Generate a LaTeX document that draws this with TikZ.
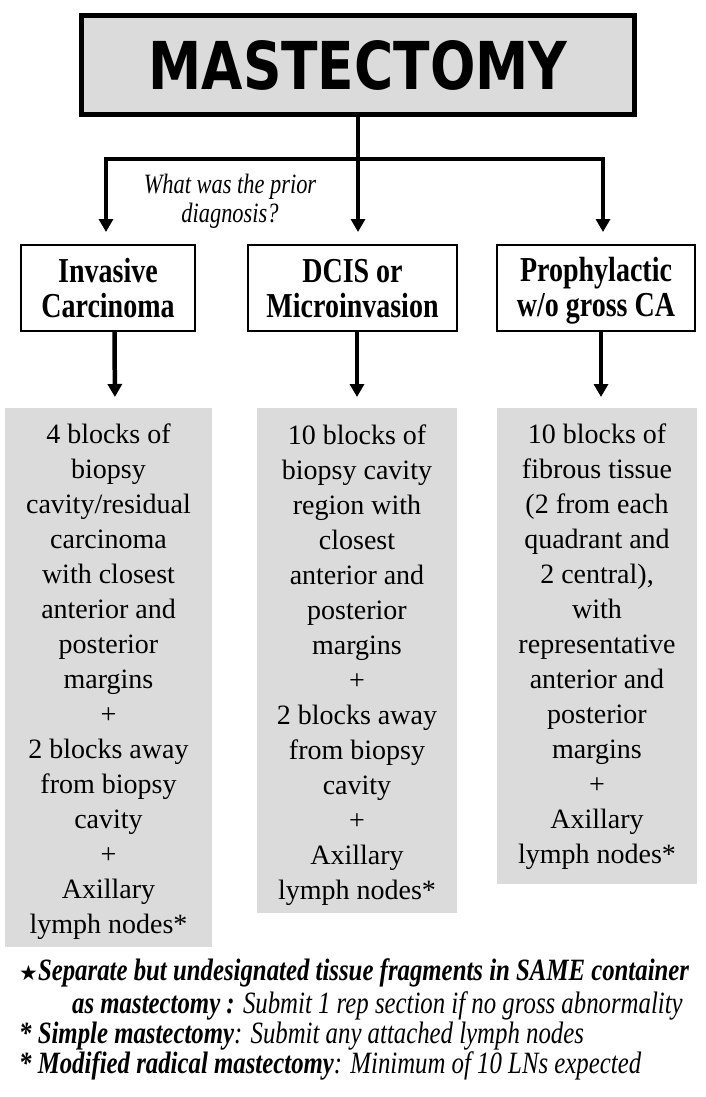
\documentclass[tikz,border=0pt]{standalone}
\usepackage{fontspec}
\setmainfont{Liberation Serif}
\newfontfamily\titlefont{DejaVu Sans}
\newfontfamily\starfont{DejaVu Sans}
\newfontfamily\narrowserif{Liberation Serif}[FakeStretch=0.8]
\usepackage{graphicx}
\usepackage{tikz}
\colorlet{boxgray}{black!14}
\usetikzlibrary{arrows.meta}
\newcommand{\toprule}{\rule{0pt}{30pt}}
\newcommand{\botrule}{\rule[-6pt]{0pt}{6pt}}

\begin{document}
\begin{tikzpicture}[
    x=1pt, y=-1pt,
    arr/.style={line width=4.5pt, -{Triangle[width=14pt,length=13pt]}},
    arrboth/.style={line width=4.5pt, line join=miter,
        {Triangle[width=14pt,length=13pt]}-{Triangle[width=14pt,length=13pt]}},
    titlebox/.style={draw, line width=5pt, fill=boxgray, inner sep=0pt,
        minimum width=553pt, minimum height=99pt},
    diagbox/.style={draw, line width=2pt, inner sep=0pt, minimum height=86pt,
        align=center, font=\narrowserif\fontsize{35}{35}\selectfont\bfseries},
    blockbox/.style={fill=boxgray, draw=none, inner sep=0pt, anchor=north,
        align=center, font=\fontsize{28}{35}\selectfont},
    note/.style={anchor=base west, inner sep=0pt, font=\narrowserif\fontsize{31}{30}\selectfont\itshape}
    ]

\useasboundingbox (0,0) rectangle (705,1097);

\node[titlebox] (title) at (358,65)
    {\scalebox{0.81}[1]{\titlefont\bfseries\fontsize{66}{66}\selectfont MASTECTOMY}};

\node[diagbox, minimum width=174pt] (inv) at (108,288) {\toprule Invasive\\Carcinoma\botrule};
\node[diagbox, minimum width=209pt] (dcis) at (352.5,288) {\toprule DCIS or\\Microinvasion\botrule};
\node[diagbox, minimum width=198pt] (prop) at (596,288) {\toprule Prophylactic\\w/o gross CA\botrule};

\coordinate (jl) at (106,159);
\coordinate (jr) at (603,159);

\draw[arr, shorten >=12pt] (title.south) -- (title.south |- dcis.north);
\draw[arrboth, shorten <=12pt, shorten >=12pt]
    (jl |- inv.north) -- (jl) -- (jr) -- (jr |- prop.north);

\node[font=\narrowserif\fontsize{28}{29}\selectfont\itshape, align=center] (ask) at (230,201)
    {What was the prior\\diagnosis?};

% blocks to submit
\node[blockbox, minimum width=207pt, minimum height=539pt] (bl) at (108.5,408)
    {\rule{0pt}{28pt}4 blocks of\\biopsy\\cavity/residual\\carcinoma\\with closest\\anterior and\\posterior\\margins\\+\\2 blocks away\\from biopsy\\cavity\\+\\Axillary\\lymph nodes*};
\node[blockbox, minimum width=200pt, minimum height=505pt] (bm) at (357,408)
    {\rule{0pt}{28pt}10 blocks of\\biopsy cavity\\region with\\closest\\anterior and\\posterior\\margins\\+\\2 blocks away\\from biopsy\\cavity\\+\\Axillary\\lymph nodes*};
\node[blockbox, minimum width=200pt, minimum height=476pt] (br) at (597,408)
    {10 blocks of\\fibrous tissue\\(2 from each\\quadrant and\\2 central),\\with\\representative\\anterior and\\posterior\\margins\\+\\Axillary\\lymph nodes*};

\draw[arr, shorten >=11pt] ([xshift=6.5pt]inv.south) -- ([xshift=6.5pt]bl.north);
\draw[arr, shorten >=11pt] ([xshift=4.5pt]dcis.south) -- (bm.north);
\draw[arr, shorten >=11pt] ([xshift=5pt]prop.south) -- ([xshift=4pt]br.north);

% footnotes
\node[note] (n1) at (19,980) {{\starfont\upshape\fontsize{21}{21}\selectfont ★}\bfseries Separate but undesignated tissue fragments in SAME container};
\node[note] (n2) at (72,1013) {\textbf{as mastectomy :} Submit 1 rep section if no gross abnormality};
\node[note] (n3) at (19,1043) {\textbf{* Simple mastectomy}: Submit any attached lymph nodes};
\node[note] (n4) at (19,1073) {\textbf{* Modified radical mastectomy}: Minimum of 10 LNs expected};

\end{tikzpicture}
\end{document}
